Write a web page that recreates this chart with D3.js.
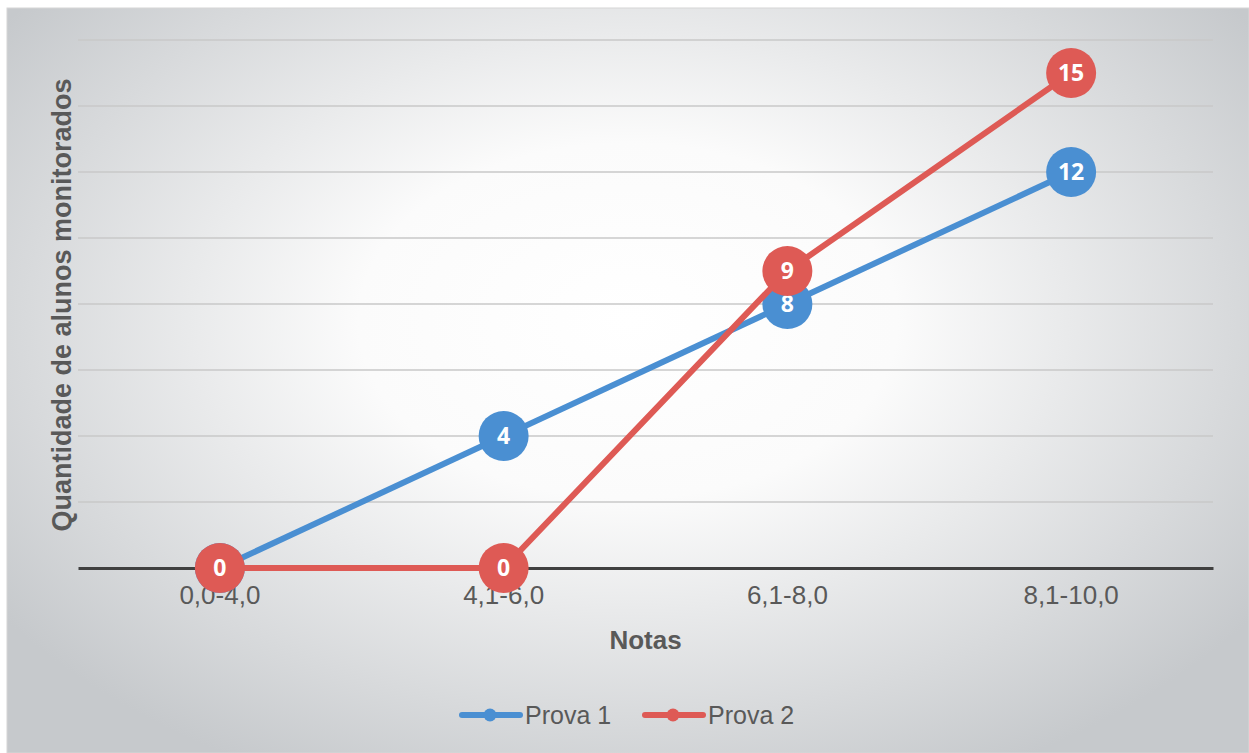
<!DOCTYPE html>
<html>
<head>
<meta charset="utf-8">
<script src="https://cdn.jsdelivr.net/npm/d3@7"></script>
<style>
  body { margin: 0; background: #fff; }
  svg { display: block; font-family: "Liberation Sans", Arial, sans-serif; }
</style>
</head>
<body>
<div id="chart"></div>
<script>
const categories = ["0,0-4,0", "4,1-6,0", "6,1-8,0", "8,1-10,0"];
const prova1 = [0, 4, 8, 12];
const prova2 = [0, 0, 9, 15];
const yTicks = [0, 2, 4, 6, 8, 10, 12, 14, 16];

const series = [
  { name: "Prova 1", values: prova1, color: "#4a8fd2" },
  { name: "Prova 2", values: prova2, color: "#de5a55" }
];

const width = 1249, height = 753;
const margin = { top: 40, right: 36, bottom: 185, left: 78 };

const svg = d3.select("#chart").append("svg")
  .attr("width", width)
  .attr("height", height)
  .attr("viewBox", `0 0 ${width} ${height}`);

const defs = svg.append("defs");
const grad = defs.append("radialGradient")
  .attr("id", "bg")
  .attr("cx", "0.5").attr("cy", "0.42")
  .attr("r", "0.62")
  .attr("gradientTransform", "translate(0.5,0.42) scale(1,1.1) translate(-0.5,-0.42)");
grad.append("stop").attr("offset", "0").attr("stop-color", "#ffffff");
grad.append("stop").attr("offset", "0.35").attr("stop-color", "#fbfbfb");
grad.append("stop").attr("offset", "1").attr("stop-color", "#c6c9cc");

svg.append("rect")
  .attr("x", 7).attr("y", 8)
  .attr("width", width - 7).attr("height", height - 8)
  .attr("fill", "url(#bg)")
  .attr("stroke", "#d6d6d6")
  .attr("stroke-width", 1);

const x = d3.scaleBand()
  .domain(categories)
  .range([margin.left, width - margin.right]);

const y = d3.scaleLinear()
  .domain([0, 16])
  .range([height - margin.bottom, margin.top]);

// gridlines
svg.append("g")
  .selectAll("line")
  .data(yTicks.filter(d => d > 0))
  .enter()
  .append("line")
  .attr("x1", margin.left)
  .attr("x2", width - margin.right)
  .attr("y1", d => y(d))
  .attr("y2", d => y(d))
  .attr("stroke", "#c9c9c9")
  .attr("stroke-width", 1.5);

// x axis
const xAxis = svg.append("g")
  .attr("transform", `translate(0,${y(0)})`)
  .call(d3.axisBottom(x).tickSize(0).tickPadding(18));
xAxis.attr("font-size", 26).attr("font-family", null);
xAxis.select(".domain")
  .attr("stroke", "#404040")
  .attr("stroke-width", 3);
xAxis.selectAll("text")
  .attr("fill", "#595959");

// axis titles
svg.append("text")
  .attr("x", x.range()[0] + (x.range()[1] - x.range()[0]) / 2)
  .attr("y", 649)
  .attr("text-anchor", "middle")
  .attr("font-size", 26)
  .attr("font-weight", "bold")
  .attr("fill", "#595959")
  .text("Notas");

svg.append("text")
  .attr("transform", `translate(71,${(y(0) + 42) / 2}) rotate(-90)`)
  .attr("text-anchor", "middle")
  .attr("font-size", 27)
  .attr("font-weight", "bold")
  .attr("fill", "#595959")
  .text("Quantidade de alunos monitorados");

const cx = d => x(d) + x.bandwidth() / 2;
const line = d3.line()
  .x((d, i) => cx(categories[i]))
  .y(d => y(d));

series.forEach(s => {
  const g = svg.append("g");
  g.append("path")
    .datum(s.values)
    .attr("d", line)
    .attr("fill", "none")
    .attr("stroke", s.color)
    .attr("stroke-width", 6)
    .attr("stroke-linejoin", "round");
  const pts = g.selectAll(".pt")
    .data(s.values)
    .enter()
    .append("g")
    .attr("transform", (d, i) => `translate(${cx(categories[i])},${y(d)})`);
  pts.append("circle")
    .attr("r", 25)
    .attr("fill", s.color);
  pts.append("text")
    .attr("text-anchor", "middle")
    .attr("dy", "0.36em")
    .attr("font-size", 23)
    .attr("font-weight", "bold")
    .attr("fill", "#fff")
    .attr("font-family", "Open Sans, sans-serif")
    .text(d => d);
});

// legend
const legend = svg.append("g").attr("transform", "translate(460,715)");
const legendX = [0, 183];
series.forEach((s, i) => {
  const lg = legend.append("g").attr("transform", `translate(${legendX[i]},0)`);
  lg.append("line")
    .attr("x1", 2).attr("x2", 60)
    .attr("stroke", s.color)
    .attr("stroke-width", 6)
    .attr("stroke-linecap", "round");
  lg.append("circle")
    .attr("cx", 30).attr("r", 6.5)
    .attr("fill", s.color);
  lg.append("text")
    .attr("x", 65)
    .attr("dy", "0.36em")
    .attr("font-size", 25)
    .attr("fill", "#595959")
    .text(s.name);
});
</script>
</body>
</html>
